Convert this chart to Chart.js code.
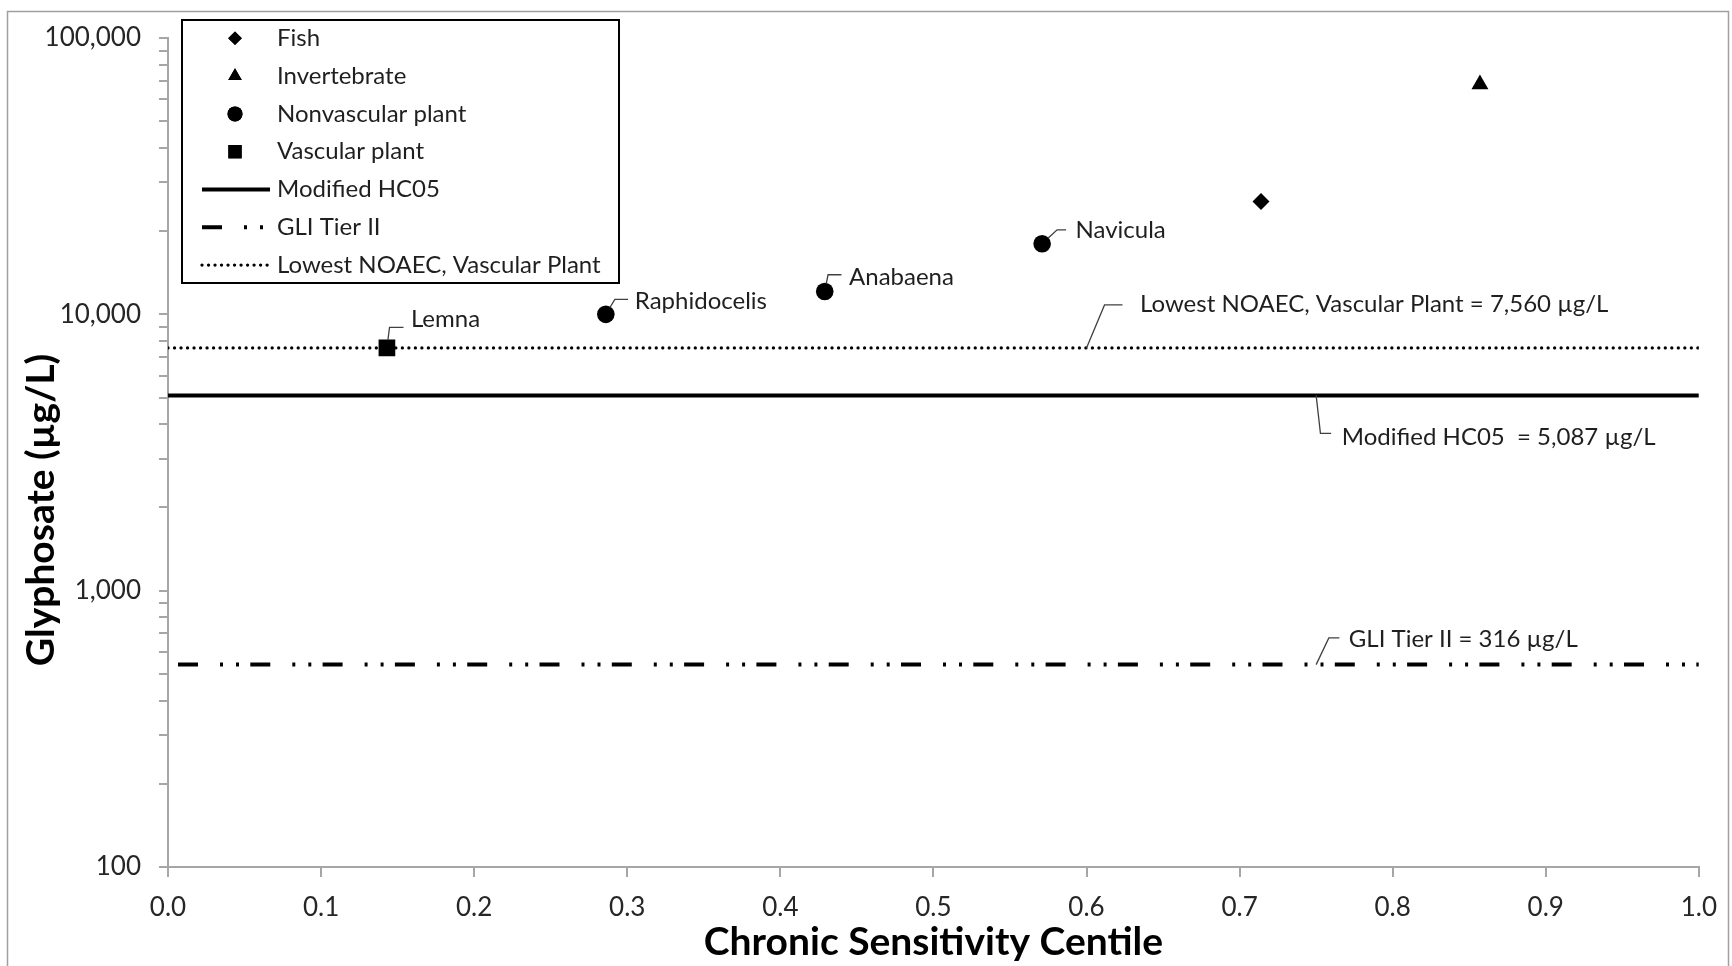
<!DOCTYPE html>
<html>
<head>
<meta charset="utf-8">
<script src="https://cdn.jsdelivr.net/npm/chart.js@4.4.1/dist/chart.umd.min.js"></script>
<style>
  html, body { margin: 0; padding: 0; background: #fff; }
  #wrap { width: 1732px; height: 966px; }
</style>
</head>
<body>
<div id="wrap"><canvas id="chart" width="1732" height="966"></canvas></div>
<script>
// species sensitivity points (centile vs chronic value, µg/L)
const SPECIES  = ['Lemna', 'Raphidocelis', 'Anabaena', 'Navicula', 'Fish', 'Invertebrate'];
const GROUPS   = ['Vascular plant', 'Nonvascular plant', 'Nonvascular plant', 'Nonvascular plant', 'Fish', 'Invertebrate'];
const CENTILES = [0.143, 0.286, 0.429, 0.571, 0.714, 0.857];
const VALUES   = [7560, 10000, 12100, 18000, 25600, 68000];

// horizontal benchmark lines
const LINE_NAMES  = ['Modified HC05', 'GLI Tier II', 'Lowest NOAEC, Vascular Plant'];
const LINE_VALUES = [5087, 540, 7560];
const LINE_LABELS = ['Modified HC05  = 5,087 µg/L', 'GLI Tier II = 316 µg/L', 'Lowest NOAEC, Vascular Plant = 7,560 µg/L'];
const LINE_LABEL_AT = [0.75, 0.75, 0.6];

// axes
const X_TICK_STEP = 0.1;
const Y_MAJOR = [100, 1000, 10000, 100000];
const LEGEND_ORDER = ['Fish', 'Invertebrate', 'Nonvascular plant', 'Vascular plant',
                      'Modified HC05', 'GLI Tier II', 'Lowest NOAEC, Vascular Plant'];

const FONT = 'Lato, "Open Sans", sans-serif';
const TEXT = '#1f1f1f';
const AXIS_GREY = '#a6a6a6';

const MARKERS = {
  'Fish':              { style: 'rectRot',  r: 8.5, legendR: 6.8 },
  'Invertebrate':      { style: 'triangle', r: 9.8, legendR: 7.8 },
  'Nonvascular plant': { style: 'circle',   r: 8.8, legendR: 7.5 },
  'Vascular plant':    { style: 'rect',     r: 11.8, legendR: 9.4 },
};
const LINE_STYLES = {
  'Modified HC05':                { width: 4,   dash: [],                       cap: 'butt',  offset: 0 },
  'GLI Tier II':                  { width: 4,   dash: [20, 22, 3, 13, 3, 11.3], cap: 'butt',  offset: 62.3 },
  'Lowest NOAEC, Vascular Plant': { width: 3.3, dash: [0.01, 6.5],              cap: 'round', offset: 0 },
};

// leader layout: [cornerDx, cornerDy, tail, gap, textDy]
const POINT_LABEL_LAYOUT = [[2.6, -20.6, 14, 7.4, -8], [9, -15, 13.3, 6.7, 1.5], [3.3, -16.7, 13.4, 7.6, 2.5], [15, -14, 9, 9.4, 0]];
const LINE_LABEL_LAYOUT  = [[4.3, 38, 10.7, 10.7, 3.5], [12.7, -26.7, 10.6, 9.4, 1.7], [18, -43, 18, 17.5, -1]];

const groupNames = ['Fish', 'Invertebrate', 'Nonvascular plant', 'Vascular plant'];
const datasets = [];
groupNames.forEach(g => {
  const pts = [];
  GROUPS.forEach((gg, i) => { if (gg === g) pts.push({ x: CENTILES[i], y: VALUES[i] }); });
  datasets.push({
    label: g, data: pts, order: 0,
    pointStyle: MARKERS[g].style, pointRadius: MARKERS[g].r,
    backgroundColor: '#000', borderColor: '#000', borderWidth: 0,
  });
});
LINE_NAMES.forEach((name, i) => {
  const st = LINE_STYLES[name];
  datasets.push({
    label: name, order: 1, showLine: true, pointRadius: 0,
    data: [{ x: 0, y: LINE_VALUES[i] }, { x: 1, y: LINE_VALUES[i] }],
    borderColor: '#000', borderWidth: st.width, borderDash: st.dash,
    borderDashOffset: st.offset, borderCapStyle: st.cap,
  });
});

function drawLeader(ctx, px, py, lay, startR, text) {
  const [cdx, cdy, tail, gap, tdy] = lay;
  const len = Math.hypot(cdx, cdy);
  const sx = px + cdx / len * startR, sy = py + cdy / len * startR;
  const cx = px + cdx, cy = py + cdy;
  ctx.beginPath();
  ctx.moveTo(sx, sy);
  ctx.lineTo(cx, cy);
  ctx.lineTo(cx + tail, cy);
  ctx.stroke();
  ctx.fillText(text, cx + tail + gap, cy + tdy);
}

const annotations = {
  id: 'annotations',
  afterDatasetsDraw(chart) {
    const { ctx, scales: { x, y } } = chart;
    ctx.save();
    ctx.font = '24px ' + FONT;
    ctx.fillStyle = TEXT;
    ctx.strokeStyle = '#404040';
    ctx.lineWidth = 1.3;
    ctx.textBaseline = 'middle';
    ctx.textAlign = 'left';
    POINT_LABEL_LAYOUT.forEach((lay, i) => {
      drawLeader(ctx, x.getPixelForValue(CENTILES[i]), y.getPixelForValue(VALUES[i]), lay, 8, SPECIES[i]);
    });
    LINE_LABEL_LAYOUT.forEach((lay, i) => {
      drawLeader(ctx, x.getPixelForValue(LINE_LABEL_AT[i]), y.getPixelForValue(LINE_VALUES[i]), lay, 0, LINE_LABELS[i]);
    });

    // y axis title
    ctx.save();
    ctx.translate(41, 510);
    ctx.rotate(-Math.PI / 2);
    ctx.textAlign = 'center';
    ctx.fillStyle = '#000';
    ctx.font = 'bold 39px ' + FONT;
    ctx.fillText('Glyphosate (µg/L)', 0, 0);
    ctx.restore();

    // legend box
    const bx = 182, by = 20, bw = 437, bh = 263;
    ctx.fillStyle = '#fff';
    ctx.fillRect(bx, by, bw, bh);
    ctx.strokeStyle = '#000';
    ctx.lineWidth = 2;
    ctx.strokeRect(bx, by, bw, bh);
    ctx.font = '24px ' + FONT;
    LEGEND_ORDER.forEach((name, i) => {
      const ry = 38.3 + i * 37.8;
      ctx.fillStyle = '#000';
      ctx.strokeStyle = '#000';
      if (MARKERS[name]) {
        Chart.helpers.drawPoint(ctx, { pointStyle: MARKERS[name].style, radius: MARKERS[name].legendR, rotation: 0, borderWidth: 0 }, 235, ry);
        ctx.fill();
      } else {
        const st = LINE_STYLES[name];
        ctx.save();
        ctx.lineWidth = st.width;
        ctx.setLineDash(st.dash);
        ctx.lineCap = st.cap;
        ctx.beginPath();
        ctx.moveTo(202, ry);
        ctx.lineTo(270, ry);
        ctx.stroke();
        ctx.restore();
      }
      ctx.fillStyle = TEXT;
      ctx.fillText(name, 277, ry);
    });

    // outer frame
    ctx.strokeStyle = '#a0a0a0';
    ctx.lineWidth = 1.5;
    ctx.strokeRect(7.5, 11.5, 1721, 970);
    ctx.restore();
  }
};

new Chart(document.getElementById('chart'), {
  type: 'scatter',
  data: { datasets },
  options: {
    responsive: false,
    animation: false,
    devicePixelRatio: 1,
    layout: { padding: { left: 0, right: 31, top: 38, bottom: 0 } },
    plugins: { legend: { display: false }, tooltip: { enabled: false } },
    scales: {
      x: {
        type: 'linear', min: 0, max: 1,
        ticks: {
          stepSize: X_TICK_STEP, autoSkip: false, maxRotation: 0, padding: 15,
          callback: v => Number(v).toFixed(1),
          font: { family: FONT, size: 26 }, color: '#262626',
        },
        grid: { drawOnChartArea: false, drawTicks: true, tickLength: 10, color: AXIS_GREY, lineWidth: 2 },
        border: { color: AXIS_GREY, width: 2 },
        title: {
          display: true, text: 'Chronic Sensitivity Centile', color: '#000',
          font: { family: FONT, size: 39, weight: 'bold' }, padding: { top: 0, bottom: 0 },
        },
        afterFit: s => { s.height = 99; },
      },
      y: {
        type: 'logarithmic', min: 100, max: 100000,
        afterBuildTicks: s => {
          const vals = [];
          Y_MAJOR.forEach((m, i) => {
            vals.push(m);
            if (i < Y_MAJOR.length - 1) for (let k = 2; k <= 9; k++) vals.push(m * k);
          });
          s.ticks = vals.map(v => ({ value: v }));
        },
        ticks: {
          autoSkip: false, padding: 18,
          callback: v => Y_MAJOR.includes(v) ? v.toLocaleString('en-US') : '',
          font: { family: FONT, size: 26 }, color: '#262626',
        },
        grid: { drawOnChartArea: false, drawTicks: true, tickLength: 9, color: AXIS_GREY, lineWidth: 2 },
        border: { color: AXIS_GREY, width: 2 },
        afterFit: s => { s.width = 168; },
      },
    },
  },
  plugins: [annotations],
});
</script>
</body>
</html>
